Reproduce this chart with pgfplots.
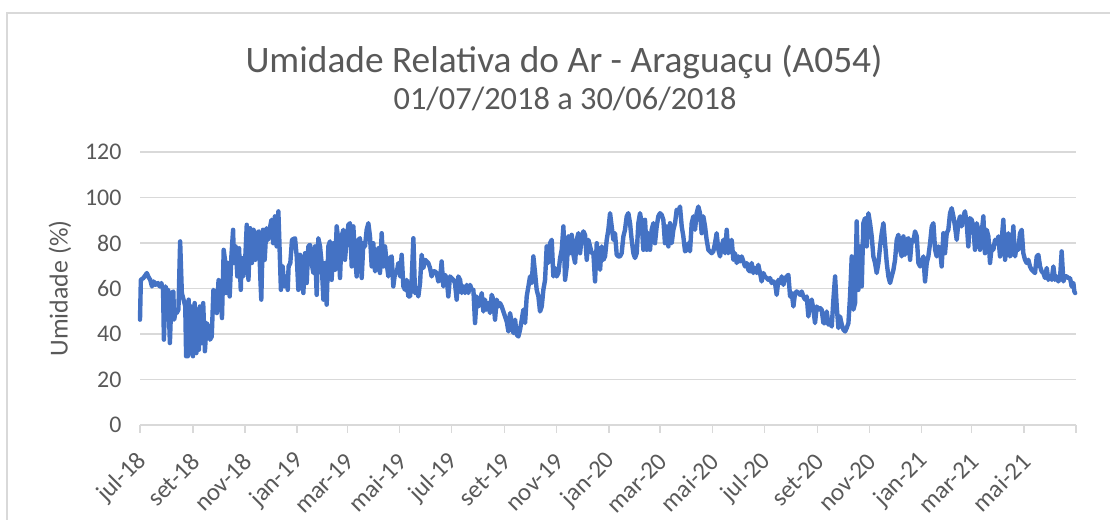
\documentclass[border=0pt]{standalone}
\usepackage{fontspec}
\setmainfont{Carlito}
\usepackage{pgfplots}
\usepackage{pgfplotstable}
\pgfplotsset{compat=1.18}
\definecolor{xlblue}{RGB}{68,114,196}
\definecolor{txtgray}{RGB}{89,89,89}
\definecolor{gridgray}{RGB}{217,217,217}

\pgfplotstableread{
day ur
0 46.3
1 63.8
4 64.6
8 66.8
10 65.0
12 63.8
14 60.9
16 63.1
18 61.6
21 62.4
23 60.9
25 62.4
27 59.4
28 37.5
30 60.9
31 58.7
33 59.4
35 36.0
37 58.0
39 58.7
40 46.3
42 50.7
43 49.2
45 50.7
47 80.7
49 58.0
51 55.1
53 52.1
54 30.2
56 30.2
57 55.1
59 31.6
60 52.1
62 30.2
64 53.6
66 31.6
67 50.7
69 33.1
70 52.1
72 36.0
74 53.6
76 32.4
78 44.8
80 43.3
82 37.5
84 38.9
86 59.4
88 58.0
90 49.2
92 63.8
94 62.4
96 47.0
98 77.0
100 71.2
101 58.0
103 71.2
105 56.5
107 74.1
109 85.8
110 71.2
112 78.5
114 65.3
116 77.7
118 59.4
119 73.4
121 65.3
123 71.2
125 88.0
127 63.8
129 86.5
131 71.2
133 85.8
135 72.6
137 84.3
139 85.1
141 63.8
142 55.1
144 85.8
146 72.6
148 86.5
150 81.4
152 86.5
154 90.2
156 79.9
158 91.7
160 78.5
162 93.9
163 82.9
165 59.4
167 69.7
169 60.9
171 65.3
173 59.4
174 69.7
176 71.2
178 81.4
181.5 82.1
183.5 74.1
185.4 59.4
187.4 74.8
189.3 66.8
191.3 58.0
193.2 75.5
195.2 62.4
197.1 78.5
199.1 79.2
201.0 71.2
203.0 66.8
204.9 78.5
206.9 57.2
208.8 82.1
210.8 78.5
212.7 71.2
214.7 55.1
216.6 71.2
218.6 52.9
220.5 78.5
222.5 80.7
224.4 63.8
226.4 79.9
228.3 68.2
230.3 87.3
232.2 81.4
234.2 64.6
236.1 82.9
238.1 85.8
240.0 72.6
242.0 81.4
244.0 88.0
245.9 88.7
247.9 69.7
249.8 87.3
251.8 74.1
253.7 65.3
255.7 81.4
257.6 82.1
259.6 64.6
261.5 79.9
263.5 78.5
265.4 85.8
267.4 88.7
269.3 82.9
271.3 69.7
273.2 79.9
275.2 67.5
277.1 71.2
279.1 77.7
281.0 66.8
283.0 84.3
284.9 69.7
286.9 78.5
288.8 71.2
290.8 65.3
292.7 73.4
294.7 74.1
296.6 60.9
298.6 66.8
300.5 66.8
302.5 71.2
304.5 65.3
306.4 74.8
308.4 60.9
310.3 59.4
312.3 63.8
314.2 56.5
316.2 56.5
318.1 63.8
320.1 82.1
322.0 58.0
324.0 59.4
325.9 56.5
327.9 62.4
329.8 74.8
331.8 69.0
333.7 72.6
335.7 71.9
337.6 71.2
339.6 69.0
341.5 65.3
343.5 67.5
345.4 67.5
347.4 66.8
349.3 63.1
351.3 63.8
353.2 71.9
355.2 60.9
357.1 66.0
359.1 64.6
361.0 56.5
363.0 65.3
364.9 64.6
366.9 63.8
368.8 62.4
370.8 55.1
372.7 65.3
374.8 63.8
376.7 58.0
378.7 60.9
380.6 58.0
382.6 61.6
384.5 58.0
386.5 61.6
388.4 59.4
390.4 59.4
392.3 44.8
394.3 56.5
396.2 52.1
398.2 53.6
400.1 58.0
402.1 49.9
404.0 55.1
406.0 50.7
407.9 53.6
409.9 49.2
411.8 57.2
413.8 55.1
415.7 46.3
417.7 55.1
419.6 52.1
421.6 53.6
423.5 52.1
425.5 49.9
427.4 47.7
429.4 45.5
431.4 41.1
433.3 49.2
435.3 44.8
437.2 40.4
439.2 46.3
441.1 39.7
443.1 38.9
445.0 41.9
447.0 46.3
448.9 50.7
450.9 44.8
452.8 56.5
454.8 60.9
456.7 65.3
458.7 62.4
460.6 74.1
462.6 66.8
464.5 59.4
466.5 56.5
468.4 49.9
470.4 52.1
472.3 59.4
474.3 63.8
476.2 78.5
478.2 71.2
480.1 79.9
482.1 81.4
484.0 65.3
486.0 69.0
487.9 65.3
489.9 66.8
491.9 73.4
493.8 77.0
495.8 87.3
497.7 63.8
499.7 69.7
501.6 82.9
503.6 75.5
505.5 83.6
507.5 74.8
509.4 71.2
511.4 81.4
513.3 84.3
515.3 75.5
517.2 82.9
519.2 85.1
521.1 83.6
523.1 72.6
525.0 81.4
527.0 78.5
528.9 75.5
530.9 75.5
532.8 63.1
534.8 79.9
536.7 72.6
538.7 68.2
540.6 78.5
542.6 72.6
544.5 74.1
546.5 81.4
548.4 85.8
550.4 93.1
552.3 87.3
554.3 81.4
556.2 84.3
558.2 74.8
560.1 74.1
562.1 74.1
564.0 75.5
566.0 82.9
567.9 85.8
569.9 91.7
571.8 93.1
573.8 88.7
575.7 81.4
577.7 75.5
579.6 73.4
581.6 75.5
583.5 88.7
585.5 93.1
587.4 88.7
589.4 77.0
591.3 90.2
593.3 77.0
595.2 84.3
597.2 77.0
599.1 85.8
601.1 88.7
603.0 79.9
605.0 87.3
606.9 91.7
608.9 93.1
610.8 92.4
612.8 90.2
614.7 79.9
616.7 87.3
618.7 78.5
620.6 88.7
622.6 79.9
624.5 85.8
626.5 88.7
628.4 94.6
630.4 93.9
632.3 96.0
634.3 87.3
636.2 82.9
638.2 76.3
640.1 77.0
642.1 79.9
644.0 76.3
646.0 88.7
647.9 91.7
649.9 85.8
651.8 93.1
653.8 96.0
655.7 93.1
657.7 84.3
659.6 91.7
661.6 87.3
663.5 81.4
665.5 77.0
667.4 76.3
669.4 75.5
671.3 76.3
673.3 79.9
675.2 84.3
677.2 77.0
679.2 74.1
681.1 78.5
683.1 81.4
685.0 75.5
687.0 85.8
688.9 75.5
690.9 78.5
692.8 81.4
694.8 72.6
696.7 75.5
698.7 71.2
700.6 74.1
702.6 71.9
704.5 74.1
706.5 71.9
708.4 69.7
710.4 71.2
712.3 68.2
714.3 67.5
716.2 71.2
718.2 66.8
720.1 69.0
722.1 66.8
724.0 70.4
726.0 66.8
727.9 63.1
729.9 66.8
731.8 65.3
733.8 64.6
735.7 63.8
737.7 64.6
739.7 62.4
741.6 63.1
743.6 62.4
745.5 57.2
747.5 63.8
749.5 62.4
751.4 65.3
753.4 61.6
755.3 64.6
757.3 65.3
759.2 66.0
761.2 56.5
763.1 58.0
765.1 52.1
767.0 58.0
769.0 58.7
770.9 58.0
772.9 57.2
774.8 58.7
776.8 56.5
778.7 55.1
780.7 56.5
782.6 47.7
784.6 53.6
786.5 55.1
788.5 50.7
790.4 44.8
792.4 52.1
794.3 50.7
796.3 51.4
798.2 50.7
800.2 44.8
802.1 44.8
804.1 49.9
806.1 44.1
808.0 44.8
810.0 43.3
811.9 55.1
813.9 65.3
815.8 52.1
817.8 42.6
819.7 47.7
821.7 44.1
823.6 41.9
825.6 41.1
827.5 42.6
829.5 44.8
831.4 56.5
833.4 74.1
835.3 50.7
837.3 53.6
839.2 89.5
841.2 59.4
843.1 78.5
845.1 60.9
847.0 88.7
849.0 90.9
850.9 78.5
852.9 93.1
854.8 88.7
856.8 82.9
858.7 74.1
860.7 71.2
862.6 66.8
864.6 71.2
866.6 78.5
868.5 84.3
870.5 88.7
872.4 79.9
874.4 71.2
876.3 65.3
878.3 62.4
880.2 65.3
882.2 68.2
884.1 72.6
886.1 81.4
888.0 83.6
890.0 77.0
891.9 74.1
893.9 82.9
895.8 74.8
897.8 81.4
899.7 82.1
901.7 72.6
903.6 81.4
905.6 80.7
907.5 85.1
909.5 82.9
911.4 71.2
913.4 69.7
915.3 71.2
917.3 74.1
919.2 63.1
921.2 71.2
923.1 74.1
925.1 79.9
927.1 87.3
929.0 88.7
931.0 77.0
932.9 74.1
934.9 78.5
936.8 77.0
938.7 69.7
940.7 84.3
942.6 75.5
944.6 84.3
946.5 85.8
948.5 93.1
950.4 95.3
952.4 91.7
954.3 87.3
956.3 81.4
958.2 88.7
960.2 91.7
962.1 87.3
964.1 91.7
966.0 93.9
968.0 88.7
969.9 78.5
971.9 90.9
973.8 90.2
975.8 87.3
977.7 77.0
979.7 88.7
981.6 85.8
983.6 77.0
985.5 84.3
987.5 91.7
989.4 75.5
991.4 85.8
993.4 82.9
995.3 71.2
997.3 78.5
999.2 77.0
1001.2 81.4
1003.1 79.9
1005.1 82.9
1007.0 74.1
1009.0 81.4
1010.9 90.2
1012.9 72.6
1014.8 78.5
1016.8 84.3
1018.7 74.1
1020.7 75.5
1022.6 87.3
1024.6 74.1
1026.5 78.5
1028.5 77.0
1030.4 84.3
1032.4 85.8
1034.3 75.5
1036.3 72.6
1038.2 71.2
1040.2 72.6
1042.1 69.7
1044.1 68.2
1046.0 67.5
1048.0 66.8
1050.0 74.1
1051.9 74.8
1053.9 69.7
1055.8 67.5
1057.8 66.8
1059.7 64.6
1061.7 69.0
1063.6 63.8
1065.6 65.3
1067.5 63.8
1069.5 69.7
1071.4 63.8
1073.4 65.3
1075.3 63.1
1077.3 64.6
1079.2 76.3
1081.2 63.1
1083.1 65.3
1085.1 65.3
1087.0 64.6
1089.0 64.6
1090.9 60.9
1092.9 62.4
1094.0 58.7
1095.0 58.0
}\umidade

\begin{document}
\begin{tikzpicture}[x=1bp,y=1bp]
\path[use as bounding box] (0,0) rectangle (1110,520);
\draw[gridgray, line width=1.5bp] (7,0) -- (7,507) -- (1112,507);
\node[txtgray, anchor=base, font=\fontsize{37.5}{44}\selectfont] at (564,447) {Umidade Relativa do Ar - Araguaçu (A054)};
\node[txtgray, anchor=base, font=\fontsize{32.5}{38}\selectfont] at (565,410) {01/07/2018 a 30/06/2018};
\begin{axis}[
  at={(140bp,95bp)}, anchor=south west,
  scale only axis, width=936bp, height=273bp,
  xmin=0, xmax=1096, ymin=0, ymax=120,
  ytick={0,20,...,120},
  xtick={0,62,123,184,243,304,365,427,488,549,609,670,731,793,854,915,974,1035,1096},
  xticklabels={jul-18,set-18,nov-18,jan-19,mar-19,mai-19,jul-19,set-19,nov-19,jan-20,mar-20,mai-20,jul-20,set-20,nov-20,jan-21,mar-21,mai-21,{}},
  ymajorgrids, grid style={gridgray, line width=1.3bp},
  axis x line*=bottom, axis y line*=left,
  x axis line style={-, gridgray, line width=1.3bp},
  y axis line style={draw=none},
  xtick align=outside, major tick length=8bp,
  xtick style={gridgray, line width=1.3bp},
  ytick style={draw=none},
  /pgf/number format/assume math mode=true,
  yticklabel style={font=\fontsize{24}{28}\selectfont, text=txtgray, xshift=-15bp},
  xticklabel style={font=\fontsize{25}{28}\selectfont, text=txtgray, xshift=5bp, yshift=-22bp, rotate=45, anchor=east},
  ylabel={Umidade (\%)},
  every axis y label/.style={at={(axis description cs:-0.0855,0.5)}, rotate=90, anchor=center, font=\fontsize{26}{30}\selectfont, text=txtgray},
  clip=false,
]
\addplot[xlblue, line width=4.4bp, line join=round, line cap=round, mark=none] table[x=day, y=ur] {\umidade};
\end{axis}
\end{tikzpicture}
\end{document}
